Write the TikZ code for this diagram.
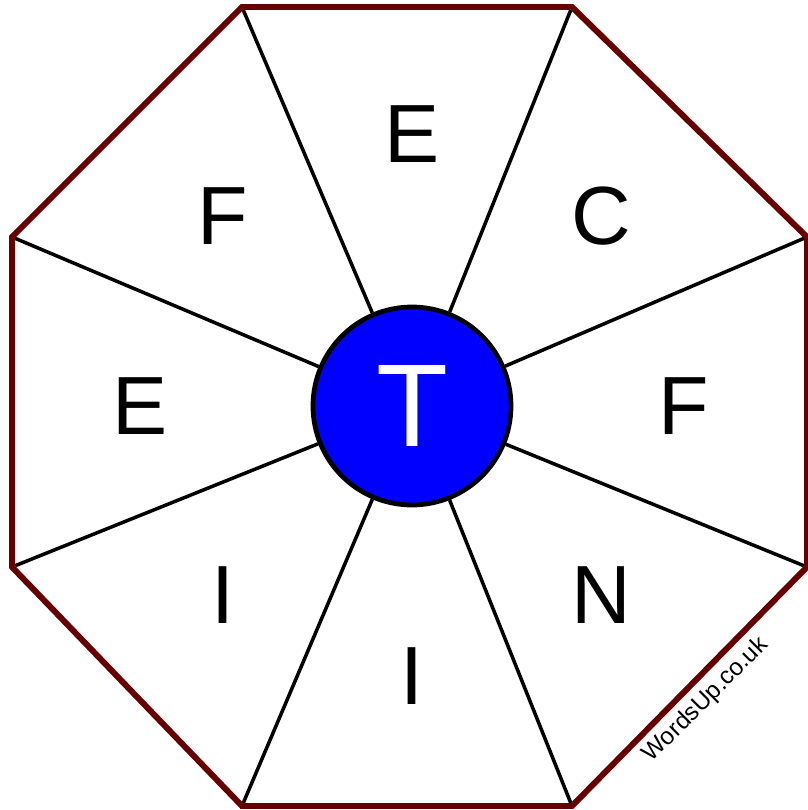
\documentclass[tikz,border=0pt]{standalone}
\usepackage{fontspec}
\setmainfont{Liberation Sans}
\usepackage{tikz}
\definecolor{rimred}{RGB}{102,0,0}
\tikzset{
  rim/.style={draw=rimred, line width=1.7pt, line join=miter},
  spoke/.style={draw=black, line width=1pt},
  hub/.style={circle, draw=black, line width=1.35pt, fill=blue, text=white,
    minimum size=1.98cm, inner sep=0pt, font=\fontsize{33.5}{36}\selectfont},
  letter/.style={inner sep=0pt, font=\fontsize{23.5}{26}\selectfont}
}

\begin{document}
\begin{tikzpicture}
                \useasboundingbox (-4.12,-4.04) rectangle (3.95,4.06);
                \coordinate (O) at (0,0);
                \coordinate (A) at (-1.70,3.99);
                \coordinate (B) at (1.60,3.99);
                \coordinate (C) at (3.95,1.69);
                \coordinate (D) at (3.95,-1.61);
                \coordinate (E) at (1.60,-4.00);
                \coordinate (F) at (-1.70,-4.00);
                \coordinate (G) at (-4.00,-1.61);
                \coordinate (H) at (-4.00,1.69);
                \node[hub] (T) at (O) {T};
                \draw[spoke] (A) -- (T) (B) -- (T) (C) -- (T) (D) -- (T);
                \draw[spoke] (E) -- (T) (F) -- (T) (G) -- (T) (H) -- (T);
                \draw[rim] (A) -- (B) -- (C) -- (D) -- (E) -- (F) -- (G) -- (H) -- cycle;
                \node[letter] (l1) at (90:2.72) {E};
                \node[letter] (l2) at (45:2.68) {C};
                \node[letter] (l3) at (0:2.72) {F};
                \node[letter] (l4) at (-45:2.68) {N};
                \node[letter] (l5) at (-90:2.70) {I};
                \node[letter] (l6) at (-135:2.68) {I};
                \node[letter] (l7) at (180:2.72) {E};
                \node[letter] (l8) at (135:2.68) {F};
                \node[rotate=45, inner sep=0pt, font=\fontsize{6.9}{8}\selectfont] (wm) at (2.94,-2.94) {WordsUp.co.uk};
            \end{tikzpicture}
\end{document}
